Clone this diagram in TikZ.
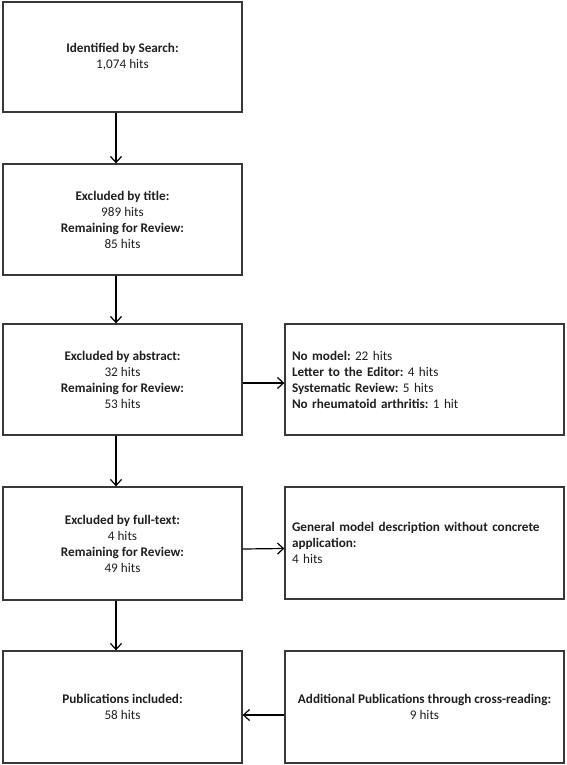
\documentclass[tikz,border=0pt]{standalone}
\usepackage{fontspec}
\setmainfont{Carlito}
\usetikzlibrary{arrows.meta}
\begin{document}
\frenchspacing
\begin{tikzpicture}[x=1pt,y=1pt,
  box/.style={draw=black!78, line width=1.3pt, fill=white, align=center,
    font=\fontsize{13.2}{16}\selectfont\frenchspacing, text=black!88, inner sep=0pt},
  leftbox/.style={box, minimum width=239pt},
  rightbox/.style={box, minimum width=279pt, text width=265pt, align=left},
  arr/.style={draw=black, line width=1.2pt, -{Straight Barb[length=6pt,width=11pt,line width=1.2pt]}}
]
\useasboundingbox (0,0) rectangle (567,-765);
\node[leftbox, minimum height=110pt] (b1) at (122.5,-57) {\textbf{Identified by Search:}\\1,074 hits};
\node[leftbox, minimum height=111pt] (b2) at (122.5,-219.5) {\textbf{Excluded by title:}\\989 hits\\\textbf{Remaining for Review:}\\85 hits};
\node[leftbox, minimum height=111pt] (b3) at (122.5,-379.5) {\textbf{Excluded by abstract:}\\32 hits\\\textbf{Remaining for Review:}\\53 hits};
\node[leftbox, minimum height=113pt] (b4) at (122.5,-543.5) {\textbf{Excluded by full-text:}\\4 hits\\\textbf{Remaining for Review:}\\49 hits};
\node[leftbox, minimum height=112pt] (b5) at (122.5,-707) {\textbf{Publications included:}\\58 hits};
\node[rightbox, minimum height=111pt] (r3) at (424.5,-379.5) {\textbf{No model:} 22 hits\\\textbf{Letter to the Editor:} 4 hits\\\textbf{Systematic Review:} 5 hits\\\textbf{No rheumatoid arthritis:} 1 hit};
\node[rightbox, minimum height=112pt] (r4) at (424.5,-543) {\textbf{General model description without concrete}\\\textbf{application:}\\4 hits};
\node[box, minimum width=279pt, minimum height=112pt] (r5) at (424.5,-707) {\textbf{Additional Publications through cross-reading:}\\9 hits};
\draw[arr] ([xshift=-6.5pt]b1.south) -- ([xshift=-6.5pt]b2.north);
\draw[arr] ([xshift=-6.5pt]b2.south) -- ([xshift=-6.5pt]b3.north);
\draw[arr] ([xshift=-6.5pt]b3.south) -- ([xshift=-6.5pt]b4.north);
\draw[arr] ([xshift=-6.5pt]b4.south) -- ([xshift=-6.5pt]b5.north);
\draw[arr] ([yshift=-3.5pt]b3.east) -- ([yshift=-3.5pt]r3.west);
\draw[arr] ([yshift=-5.5pt]b4.east) -- ([yshift=-5.5pt]r4.west);
\draw[arr] ([yshift=-8pt]r5.west) -- ([yshift=-8pt]b5.east);
\end{tikzpicture}
\end{document}
